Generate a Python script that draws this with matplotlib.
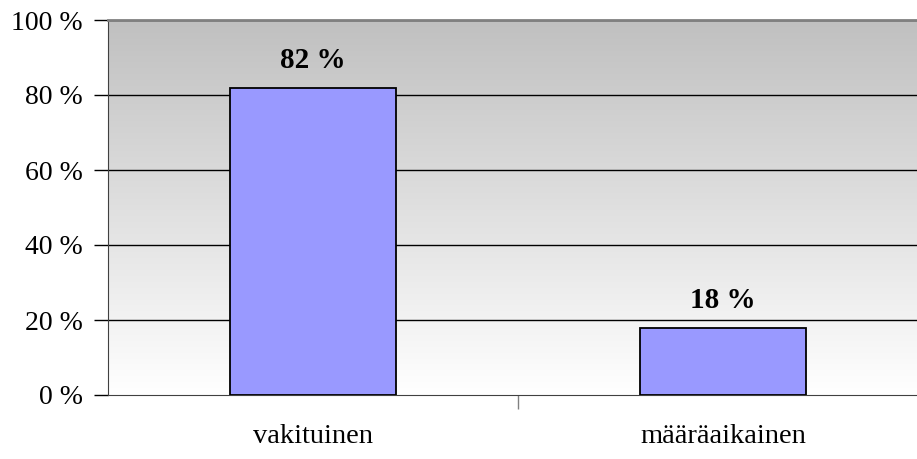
import matplotlib.pyplot as plt
import numpy as np

categories = ['vakituinen', 'määräaikainen']
shares = [82, 18]
y_ticks = [0, 20, 40, 60, 80, 100]

plt.rcParams['font.family'] = ['Liberation Serif', 'DejaVu Serif']

fig = plt.figure(figsize=(9.17, 4.59), dpi=100)
# plot area runs off the right edge as in the original
ax = fig.add_axes([108 / 917, 1 - 395 / 459, 820 / 917, 375 / 459])

# grey-to-white vertical gradient background
grad = np.linspace(0, 1, 256).reshape(-1, 1)
ax.imshow(grad, extent=[0, 1, 0, 1], transform=ax.transAxes, aspect='auto',
          cmap=plt.matplotlib.colors.LinearSegmentedColormap.from_list('g', ['#ffffff', '#c0c0c0']),
          origin='lower', zorder=0)
ax.set_facecolor('none')

x = np.arange(len(categories))
bars = ax.bar(x, shares, width=0.405, color='#9999ff', edgecolor='black', linewidth=1.3, zorder=3)

for b, v in zip(bars, shares):
    ax.text(b.get_x() + b.get_width() / 2, v + 3.5, f'{v} %', ha='center', va='bottom',
            fontsize=21, fontweight='bold', zorder=4)

ax.set_xlim(-0.5, 1.5)
ax.set_ylim(0, 100)
ax.set_yticks(y_ticks)
ax.set_yticklabels([f'{t} %' for t in y_ticks], fontsize=20)
for t in y_ticks[1:]:
    ax.axhline(t, color='black', linewidth=1, zorder=2)

ax.set_xticks([0.5])
ax.set_xticklabels([''])
ax.tick_params(axis='x', length=10, color='#808080', width=1)
ax.tick_params(axis='y', length=10, color='black', width=1, pad=8)
for i, c in enumerate(categories):
    ax.text(i, -11, c, ha='center', va='center', fontsize=20.5)

ax.spines['top'].set_color('#808080')
ax.spines['top'].set_linewidth(2)
ax.spines['right'].set_visible(False)
ax.spines['left'].set_color('#404040')
ax.spines['bottom'].set_color('#404040')

plt.savefig('out.png', dpi=100)
